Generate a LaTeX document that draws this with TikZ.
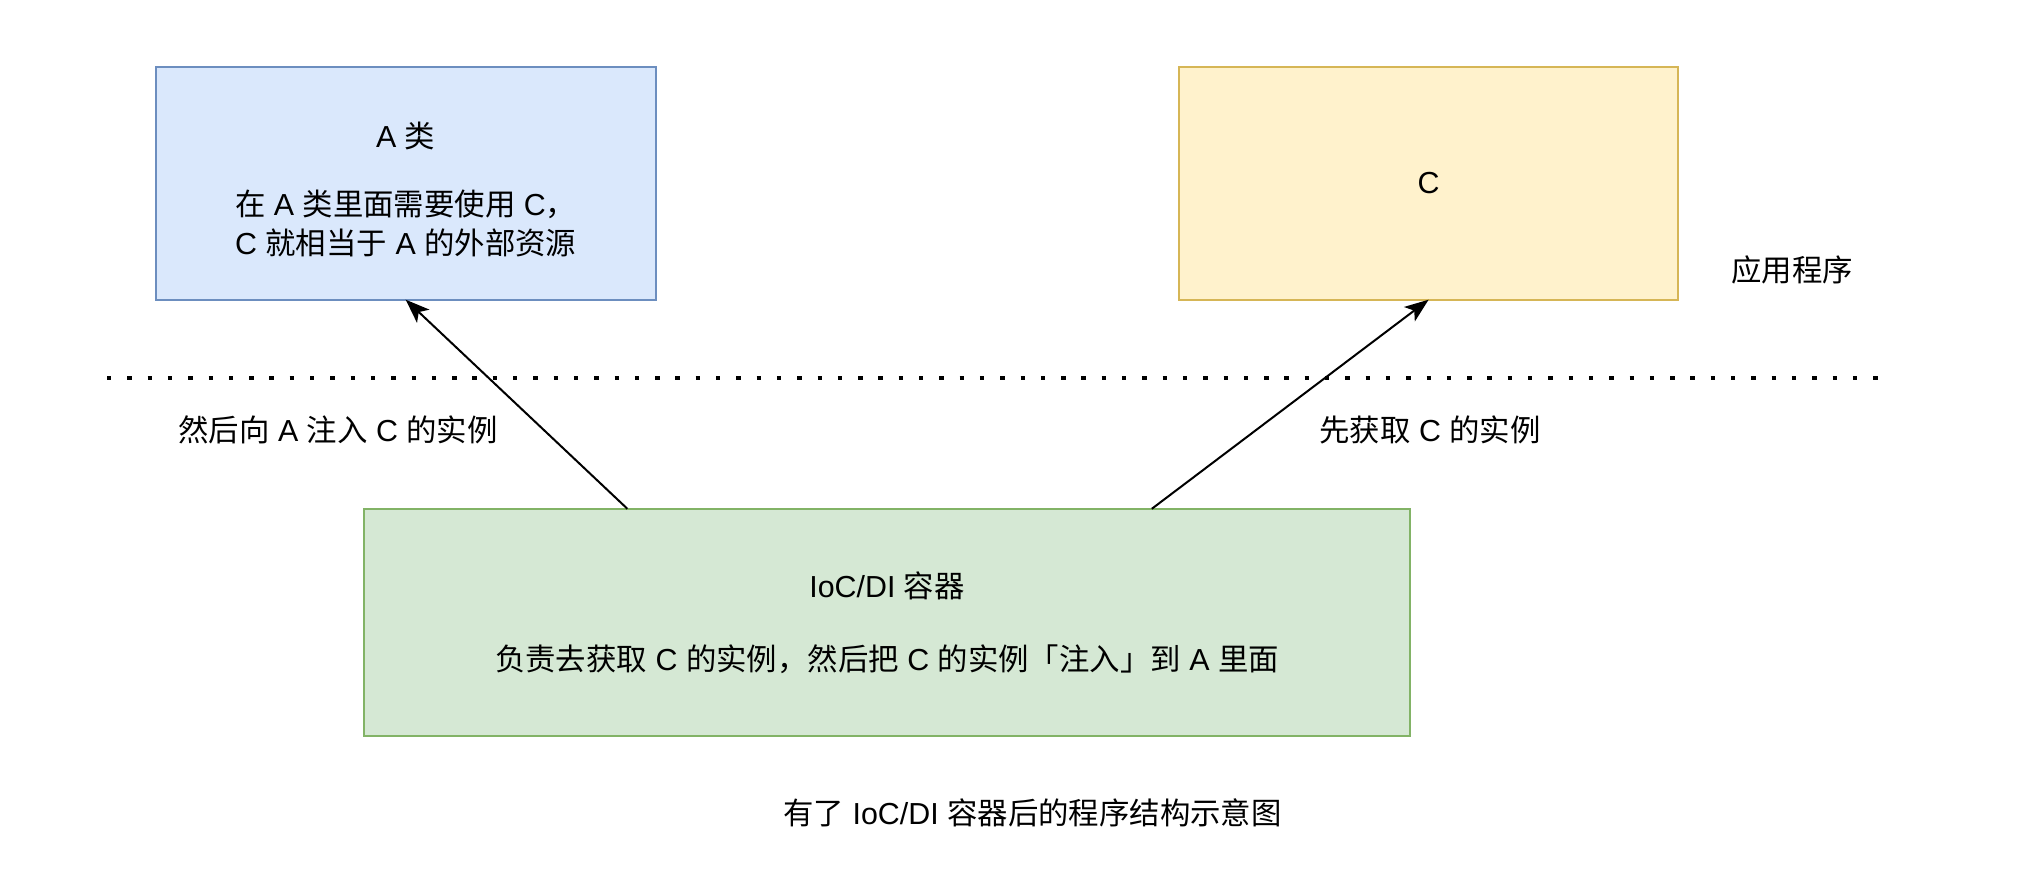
\documentclass[tikz,border=0pt]{standalone}
\usepackage{fontspec}
\usepackage{tikz}
\usetikzlibrary{arrows.meta}
\setmainfont{Liberation Sans}
\newfontfamily\zh{Noto Sans CJK SC}
\definecolor{bluefill}{HTML}{DAE8FC}
\definecolor{bluedraw}{HTML}{6C8EBF}
\definecolor{yellowfill}{HTML}{FFF2CC}
\definecolor{yellowdraw}{HTML}{D6B656}
\definecolor{greenfill}{HTML}{D5E8D4}
\definecolor{greendraw}{HTML}{82B366}

\begin{document}
\begin{tikzpicture}[x=0.5pt, y=-0.5pt,
  every node/.style = {font=\fontsize{15.2pt}{19.5pt}\selectfont, align=center, inner sep=0pt, outer sep=0pt},
  box/.style = {draw, line width=1pt, minimum width=250pt, minimum height=116.5pt},
  link/.style = {line width=1pt, -{Stealth[length=12pt, width=9pt, inset=3pt]}}]
\useasboundingbox (0,0) rectangle (2035,873);
\node[box, fill=bluefill, draw=bluedraw] (a) at (405.7,183.2)
  {\rule{0pt}{19pt}A {\zh 类}\\[14.7pt] {\zh 在} A {\zh 类里面需要使用} C{\zh ，}\\ C {\zh 就相当于} A {\zh 的外部资源}};
\node[box, fill=yellowfill, draw=yellowdraw, minimum width=249.5pt] (c) at (1428.6,183.2) {C};
\node[box, fill=greenfill, draw=greendraw, minimum width=523.2pt, minimum height=113.5pt] (ioc) at (887,622.3)
  {IoC/DI {\zh 容器}\\[17pt] {\zh 负责去获取} C {\zh 的实例，然后把} C {\zh 的实例「注入」到} A {\zh 里面}};
\node (app) at (1792,270) {\zh 应用程序};
\node (inject) at (338,430) {{\zh 然后向} A {\zh 注入} C {\zh 的实例}};
\node (fetch) at (1430,430) {{\zh 先获取} C {\zh 的实例}};
\node (title) at (1032.5,813) {{\zh 有了} IoC/DI {\zh 容器后的程序结构示意图}};
\coordinate (left) at (107,378);
\coordinate (right) at (1888,378);
\draw[line width=2.2pt, dash pattern=on 2.2pt off 7.95pt] (left) -- (right);
\draw[link] ([xshift=131.8pt]ioc.north west) -- (a.south);
\draw[link] ([xshift=-129.2pt]ioc.north east) -- (c.south);
\end{tikzpicture}
\end{document}
